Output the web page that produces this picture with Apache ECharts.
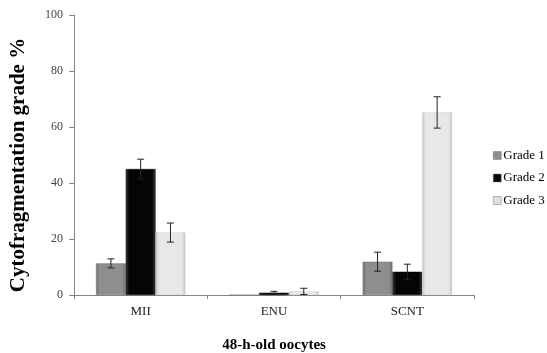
<!DOCTYPE html>
<html><head><meta charset="utf-8">
<script src="https://cdn.jsdelivr.net/npm/echarts@6/dist/echarts.min.js"></script>
<style>html,body{margin:0;padding:0;background:#fff}#c{width:547px;height:353px}</style>
</head><body><div id="c"></div>
<script>
const categories = ['MII', 'ENU', 'SCNT'];
const seriesNames = ['Grade 1', 'Grade 2', 'Grade 3'];
const grade1 = [11.3, 0, 11.9];
const grade2 = [45, 0.8, 8.3];
const grade3 = [22.3, 1.3, 65.2];
const err1 = [1.6, 0, 3.4];
const err2 = [3.5, 0.5, 2.7];
const err3 = [3.4, 1.1, 5.6];
const yTicks = [0, 20, 40, 60, 80, 100];
const yTitle = 'Cytofragmentation grade %';
const xTitle = '48-h-old oocytes';

const values = [grade1, grade2, grade3];
const errs = [err1, err2, err3];
const FONT = 'Liberation Serif';
const GAP = 0.33;

function grad(c0, c1) {
  return new echarts.graphic.LinearGradient(0, 0, 1, 0, [
    {offset: 0, color: c0}, {offset: 0.12, color: c1}, {offset: 0.88, color: c1}, {offset: 1, color: c0}
  ]);
}
const fills = [grad('#6e6e6e', '#8e8e8e'), grad('#3a3a3a', '#050505'), grad('#c4c4c4', '#e8e8e8')];
const borders = ['#7a7a7a', '#000000', '#c8c8c8'];
const legendColors = ['#8e8e8e', '#0a0a0a', '#e0e0e0'];

const series = [];
values.forEach((v, i) => {
  series.push({
    name: seriesNames[i], type: 'bar', data: v, barGap: 0, barCategoryGap: (GAP * 100) + '%',
    itemStyle: {color: fills[i], borderColor: borders[i], borderWidth: 0.5},
    emphasis: {disabled: true}
  });
});
values.forEach((v, i) => {
  const data = v.map((val, j) => [j, val - errs[i][j], val + errs[i][j]]);
  series.push({
    type: 'custom', silent: true, z: 10,
    data: data.filter(d => d[2] - d[1] > 0),
    renderItem: function (params, api) {
      const x = api.value(0);
      const lo = api.coord([x, api.value(1)]);
      const hi = api.coord([x, api.value(2)]);
      const band = api.size([1, 0])[0];
      const bw = band * (1 - GAP) / 3;
      const cx = lo[0] + (i - 1) * bw;
      const hw = 3.5;
      const st = {stroke: '#222', lineWidth: 1};
      return {type: 'group', children: [
        {type: 'line', shape: {x1: cx, y1: lo[1], x2: cx, y2: hi[1]}, style: st},
        {type: 'line', shape: {x1: cx - hw, y1: lo[1], x2: cx + hw, y2: lo[1]}, style: st},
        {type: 'line', shape: {x1: cx - hw, y1: hi[1], x2: cx + hw, y2: hi[1]}, style: st}
      ]};
    }
  });
});

const chart = echarts.init(document.getElementById('c'), null, {renderer: 'canvas'});
chart.setOption({
  animation: false,
  textStyle: {fontFamily: FONT},
  grid: {left: 74, right: 73, top: 15, bottom: 58, containLabel: false, outerBoundsMode: 'none'},
  graphic: [{
    type: 'text', x: 19, y: 165, rotation: Math.PI / 2,
    style: {text: yTitle, font: 'bold 21px "Liberation Serif"', fill: '#000', align: 'center', verticalAlign: 'middle'}
  }],
  legend: {
    data: seriesNames.map((n, i) => ({name: n, itemStyle: {color: legendColors[i], borderColor: '#777', borderWidth: 0.5}})),
    orient: 'vertical', left: 493, top: 149, padding: 0, width: 54,
    itemWidth: 8, itemHeight: 8, itemGap: 9.5,
    icon: 'rect', selectedMode: false,
    textStyle: {fontFamily: FONT, fontSize: 13, color: '#000', padding: [0, 0, 0, -3], overflow: 'none'}
  },
  xAxis: {
    type: 'category', data: categories,
    name: xTitle, nameLocation: 'middle', nameGap: 43,
    nameTextStyle: {fontFamily: FONT, fontWeight: 'bold', fontSize: 15, color: '#000'},
    axisLine: {lineStyle: {color: '#868686'}},
    axisTick: {show: true, length: 4, lineStyle: {color: '#868686'}},
    axisLabel: {fontFamily: FONT, fontSize: 13, color: '#222', margin: 10}
  },
  yAxis: {
    type: 'value', min: 0, max: 100, interval: 20,
    axisLine: {show: true, lineStyle: {color: '#868686'}},
    axisTick: {show: true, length: 5, lineStyle: {color: '#868686'}},
    axisLabel: {fontFamily: FONT, fontSize: 12, color: '#444', margin: 11,
      formatter: v => yTicks.includes(v) ? String(v) : ''},
    splitLine: {show: false}
  },
  series: series
});
</script></body></html>
